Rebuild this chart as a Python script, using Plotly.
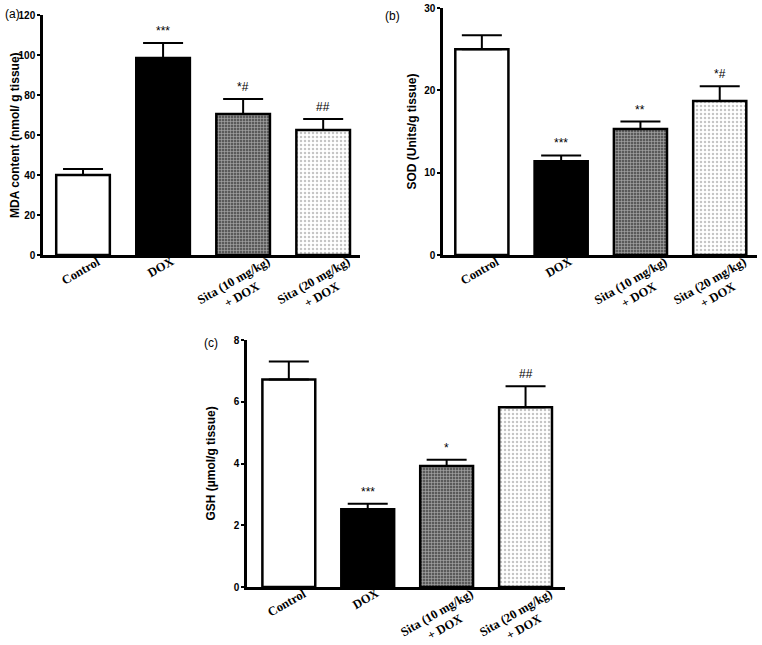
import plotly.graph_objects as go

categories = ["Control", "DOX", "Sita (10 mg/kg)<br>+ DOX", "Sita (20 mg/kg)<br>+ DOX"]

mda_mean = [40, 98.5, 70.5, 62.5]
mda_top = [43, 106, 78, 68]
mda_sig = ["", "***", "*#", "##"]

sod_mean = [25.0, 11.4, 15.3, 18.7]
sod_top = [26.7, 12.1, 16.2, 20.5]
sod_sig = ["", "***", "**", "*#"]

gsh_mean = [6.72, 2.52, 3.92, 5.82]
gsh_top = [7.3, 2.7, 4.12, 6.5]
gsh_sig = ["", "***", "*", "##"]

panels = [
    dict(mean=mda_mean, top=mda_top, sig=mda_sig, title="MDA content (nmol/ g tissue)",
         yrange=[0, 120], dtick=20, label="(a)"),
    dict(mean=sod_mean, top=sod_top, sig=sod_sig, title="SOD (Units/g tissue)",
         yrange=[0, 30], dtick=10, label="(b)"),
    dict(mean=gsh_mean, top=gsh_top, sig=gsh_sig, title="GSH (µmol/g tissue)",
         yrange=[0, 8], dtick=2, label="(c)"),
]

W, H = 762, 645
def px(x):
    return x / W
def py(y):
    return 1 - y / H

xdomains = [[px(43), px(360)], [px(443), px(757)], [px(247), px(565)]]
ydomains = [[py(255), py(15)], [py(255), py(8)], [py(587), py(340)]]
xranges = [[-0.5, 3.46], [-0.49, 3.47], [-0.53, 3.5]]
label_pos = [(3, 14), (383, 16), (202, 343)]
title_x = [15, 412, 210]

bar_colors = ["white", "black", "#6e6e6e", "white"]
patterns = [
    dict(shape=""),
    dict(shape=""),
    dict(shape="+", fgcolor="white", bgcolor="#5a5a5a", size=3, solidity=0.35),
    dict(shape=".", fgcolor="#8a8a8a", bgcolor="white", size=4, solidity=0.3),
]

fig = go.Figure()
annotations = []
layout = {}
for i, p in enumerate(panels):
    sfx = "" if i == 0 else str(i + 1)
    xa, ya = "x" + sfx, "y" + sfx
    err = [t - m for t, m in zip(p["top"], p["mean"])]
    for j, cat in enumerate(categories):
        fig.add_trace(go.Bar(
            x=[cat], y=[p["mean"][j]], xaxis=xa, yaxis=ya, width=0.67,
            marker=dict(color=bar_colors[j], line=dict(color="black", width=2.5),
                        pattern=patterns[j]),
            error_y=dict(type="data", symmetric=False, array=[err[j]], arrayminus=[0],
                         color="black", thickness=2, width=20),
            showlegend=False,
        ))
        if p["sig"][j]:
            annotations.append(dict(
                x=cat, y=p["top"][j], xref=xa, yref=ya, text=p["sig"][j],
                showarrow=False, yanchor="bottom", yshift=3,
                font=dict(family="Liberation Sans", size=12, color="black"),
            ))
        annotations.append(dict(
            x=cat, y=0, xref=xa, yref=ya + " domain", text=cat,
            showarrow=False, textangle=-30, xanchor="center", yanchor="top",
            xshift=-6 if "<br>" in cat else -2, yshift=2, borderpad=0,
            font=dict(family="Liberation Serif", size=12.5, color="black", weight="bold"),
        ))
    lx, ly = label_pos[i]
    annotations.append(dict(
        x=px(lx), y=py(ly), xref="paper", yref="paper", text=p["label"],
        showarrow=False, xanchor="left", yanchor="middle",
        font=dict(family="Liberation Sans", size=12, color="black"),
    ))
    annotations.append(dict(
        x=px(title_x[i]), y=sum(ydomains[i]) / 2, xref="paper", yref="paper",
        text=p["title"], showarrow=False, textangle=-90,
        xanchor="center", yanchor="middle",
        font=dict(family="Liberation Sans", size=12, color="black", weight="bold"),
    ))
    layout["xaxis" + sfx] = dict(
        domain=xdomains[i], anchor=ya, range=xranges[i], type="category",
        categoryorder="array", categoryarray=categories, automargin=False,
        showticklabels=False, ticks="", showline=True, linecolor="black", linewidth=2.5,
        showgrid=False, zeroline=False, fixedrange=True,
    )
    layout["yaxis" + sfx] = dict(
        domain=ydomains[i], anchor=xa, range=p["yrange"], dtick=p["dtick"], tick0=0,
        automargin=False,
        ticks="outside", ticklen=3, tickwidth=2, tickcolor="black",
        showline=True, linecolor="black", linewidth=2.5, showgrid=False, zeroline=False,
        tickfont=dict(family="Liberation Sans", size=10, color="black", weight="bold"),
    )

fig.update_layout(
    width=W, height=H, margin=dict(l=0, r=0, t=0, b=0, autoexpand=False),
    plot_bgcolor="white", paper_bgcolor="white",
    annotations=annotations, bargap=0.33, **layout,
)
fig.write_html(
    "out.html",
    config={"displayModeBar": False},
    post_script="document.body.style.margin='0';document.body.style.overflow='hidden';",
)
